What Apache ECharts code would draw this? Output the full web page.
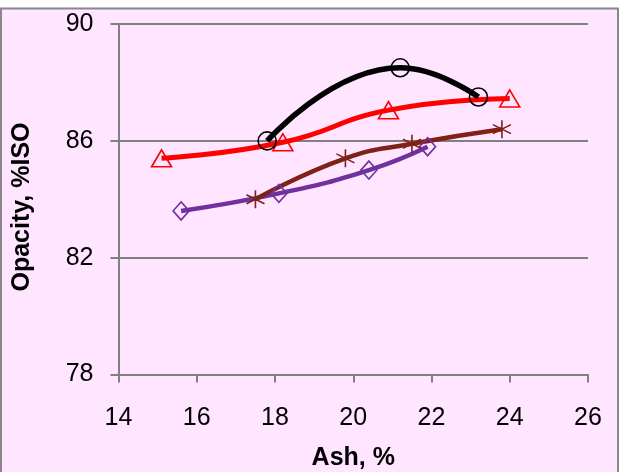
<!DOCTYPE html>
<html>
<head>
<meta charset="utf-8">
<script src="https://cdn.jsdelivr.net/npm/echarts@6/dist/echarts.min.js"></script>
<style>
html,body{margin:0;padding:0;background:#fff;}
#c{width:620px;height:472px;}
</style>
</head>
<body>
<div id="c"></div>
<script>
var xTicks = [14, 16, 18, 20, 22, 24, 26];
var yTicks = [78, 82, 86, 90];

var blackX = [17.8, 21.2, 23.2];
var blackY = [86.0, 88.5, 87.5];
var redX = [15.1, 18.2, 20.9, 24.0];
var redY = [85.4, 85.95, 87.05, 87.45];
var brownX = [17.5, 19.8, 21.5, 23.8];
var brownY = [84.0, 85.4, 85.9, 86.4];
var purpleX = [15.6, 18.1, 20.4, 21.9];
var purpleY = [83.6, 84.2, 85.0, 85.8];

function pairs(xs, ys) { return xs.map(function (x, i) { return [x, ys[i]]; }); }

var asterisk = 'path://M5,0L5,10M0.7,2.5L9.3,7.5M9.3,2.5L0.7,7.5';

var chart = echarts.init(document.getElementById('c'), null, {renderer: 'canvas'});
var font = '"Liberation Sans", Arial, sans-serif';

function mkSeries(name, xs, ys, color, symbol, size, width) {
  return {
    name: name,
    type: 'line',
    data: pairs(xs, ys),
    smooth: 0.5,
    symbol: symbol,
    symbolSize: size,
    showSymbol: true,
    lineStyle: {color: color, width: width},
    itemStyle: {color: 'rgba(0,0,0,0)', borderColor: color, borderWidth: 1.6},
    emphasis: {disabled: true},
    z: 3
  };
}

chart.setOption({
  animation: false,
  backgroundColor: 'transparent',
  graphic: [{
    type: 'rect', z: -10, silent: true,
    shape: {x: 1, y: 8.5, width: 617, height: 500},
    style: {fill: '#FFE5FF', stroke: '#888888', lineWidth: 2}
  }, {
    type: 'text', silent: true, x: 22, y: 207, rotation: Math.PI / 2,
    style: {text: 'Opacity, %ISO', fill: '#000', align: 'center', verticalAlign: 'middle',
            font: 'bold 25px "Liberation Sans", Arial, sans-serif'}
  }],
  grid: {left: 118.5, right: 32, top: 24, bottom: 97.5, containLabel: false, outerBoundsMode: 'none'},
  xAxis: {
    type: 'value', min: xTicks[0], max: xTicks[xTicks.length - 1], interval: 2,
    name: 'Ash, %', nameLocation: 'middle', nameGap: 71,
    nameTextStyle: {fontFamily: font, fontSize: 25, fontWeight: 'bold', color: '#000'},
    axisLine: {show: true, onZero: false, lineStyle: {color: '#808080', width: 2}},
    axisTick: {show: true, length: 8, lineStyle: {color: '#808080', width: 2}},
    axisLabel: {fontFamily: font, fontSize: 25, color: '#000', margin: 31},
    splitLine: {show: false}
  },
  yAxis: {
    type: 'value', min: yTicks[0], max: yTicks[yTicks.length - 1], interval: 4,
    axisLine: {show: true, lineStyle: {color: '#808080', width: 2}},
    axisTick: {show: true, length: 8, lineStyle: {color: '#808080', width: 2}},
    axisLabel: {fontFamily: font, fontSize: 25, color: '#000', margin: 25},
    splitLine: {show: true, lineStyle: {color: '#808080', width: 2}}
  },
  series: [
    mkSeries('purple', purpleX, purpleY, '#7030A0', 'diamond', [16, 18], 4.5),
    mkSeries('brown', brownX, brownY, '#7E2116', asterisk, 18, 4.5),
    mkSeries('red', redX, redY, '#FF0000', 'triangle', [20, 17], 5),
    mkSeries('black', blackX, blackY, '#000000', 'circle', 18, 5.5)
  ]
});
</script>
</body>
</html>
